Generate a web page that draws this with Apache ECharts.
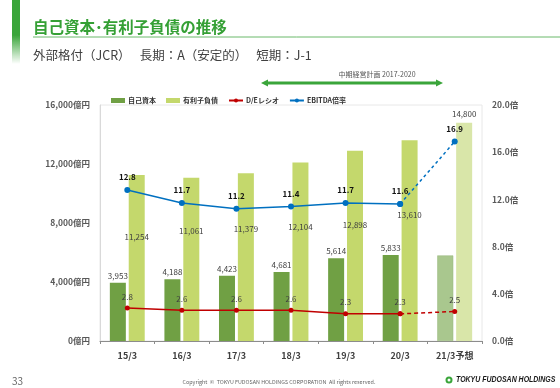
<!DOCTYPE html>
<html><head><meta charset="utf-8">
<script src="https://cdn.jsdelivr.net/npm/echarts@6/dist/echarts.min.js"></script>
<style>html,body{margin:0;padding:0;background:#fff}#c{width:560px;height:388px}</style>
</head><body><div id="c"></div>
<script>
const categories = ['15/3','16/3','17/3','18/3','19/3','20/3','21/3予想'];
const equity = [3953, 4188, 4423, 4681, 5614, 5833, 5800];
const debt = [11254, 11061, 11379, 12104, 12898, 13610, 14800];
const deRatio = [2.8, 2.6, 2.6, 2.6, 2.3, 2.3, 2.5];
const ebitda = [12.8, 11.7, 11.2, 11.4, 11.7, 11.6, 16.9];
const leftTicks = [0, 4000, 8000, 12000, 16000];
const rightTicks = [0, 4, 8, 12, 16, 20];
// label offsets (px below bar top) for debt labels
const debtLabelDy = [62, 53, 56, 64, 74, 75, null];

const FONT = '"Noto Sans CJK JP","Noto Sans",sans-serif';
const n = categories.length;
const last = n - 1;
const fmt = v => v.toLocaleString('en-US');

const equityData = equity.map((v, i) => ({
  value: v,
  itemStyle: i === last ? {color: '#a9c78e', borderColor: '#98b87c', borderWidth: 0.5} : {color: '#70a044'},
  label: {show: i !== last}
}));
const debtData = debt.map((v, i) => ({
  value: v,
  itemStyle: {color: i === last ? '#d9e6a9' : '#c4d86c'},
  label: i === last ? {show: true, position: 'top', distance: 5}
                    : {show: true, position: ['50%', debtLabelDy[i]], align: 'center', verticalAlign: 'middle'}
}));
const solid = arr => arr.map((v, i) => i < last ? v : null);
const dashed = arr => arr.map((v, i) => i >= last - 1 ? v : null);

const chart = echarts.init(document.getElementById('c'), null, {renderer: 'canvas'});
const lblStyle = {fontFamily: FONT, fontSize: 8, color: '#404040'};

chart.setOption({
  animation: false,
  textStyle: {fontFamily: FONT},
  grid: {left: 100, right: 78, top: 105, bottom: 47, show: true, borderColor: '#e8e8e8', borderWidth: 1, backgroundColor: 'transparent'},
  legend: {
    top: 92, left: 106, itemWidth: 14, itemHeight: 5, itemGap: 10,
    textStyle: {fontFamily: FONT, fontSize: 7, fontWeight: 'bold', color: '#333', padding: [0,0,0,-2]},
    data: [
      {name: '自己資本', icon: 'rect'},
      {name: '有利子負債', icon: 'rect'},
      {name: 'D/Eレシオ'},
      {name: 'EBITDA倍率'}
    ]
  },
  xAxis: {
    type: 'category', data: categories, boundaryGap: true,
    axisLine: {lineStyle: {color: '#8c8c8c', width: 1}},
    axisTick: {show: true, length: 3, lineStyle: {color: '#8c8c8c'}},
    axisLabel: {fontFamily: FONT, fontSize: 9, fontWeight: 'bold', color: '#404040', margin: 10}
  },
  yAxis: [
    {type: 'value', min: leftTicks[0], max: leftTicks[leftTicks.length-1], interval: leftTicks[1]-leftTicks[0],
     axisLine: {show: true, lineStyle: {color: '#d9d9d9'}}, axisTick: {show: false}, splitLine: {show: false},
     axisLabel: {fontFamily: FONT, fontSize: 8.5, fontWeight: 'bold', color: '#595959', margin: 10,
       formatter: v => fmt(v) + '億円'}},
    {type: 'value', min: rightTicks[0], max: rightTicks[rightTicks.length-1], interval: rightTicks[1]-rightTicks[0],
     axisLine: {show: false}, axisTick: {show: false}, splitLine: {show: false},
     axisLabel: {fontFamily: FONT, fontSize: 8.5, fontWeight: 'bold', color: '#595959', margin: 10,
       formatter: v => v.toFixed(1) + '倍'}}
  ],
  series: [
    {name: '自己資本', type: 'bar', data: equityData, barWidth: 16, barGap: '18%', itemStyle: {color: '#70a044'},
     label: Object.assign({position: 'top', distance: 3, formatter: p => fmt(p.value)}, lblStyle)},
    {name: '有利子負債', type: 'bar', data: debtData, barWidth: 16, itemStyle: {color: '#c4d86c'},
     label: Object.assign({formatter: p => fmt(p.value)}, lblStyle)},
    {name: 'D/Eレシオ', type: 'line', yAxisIndex: 1, data: solid(deRatio), symbol: 'circle', symbolSize: 5,
     itemStyle: {color: '#c00000'}, lineStyle: {color: '#c00000', width: 1.5}, z: 5,
     label: Object.assign({show: true, position: 'top', distance: 5, formatter: p => p.value.toFixed(1)}, lblStyle)},
    {name: 'D/Eレシオ', type: 'line', yAxisIndex: 1, data: dashed(deRatio), symbol: 'circle', symbolSize: 5,
     itemStyle: {color: '#c00000'}, lineStyle: {color: '#c00000', width: 1.5, type: [4, 3]}, z: 4,
     label: Object.assign({show: true, position: 'top', distance: 5,
       formatter: p => p.dataIndex === last ? p.value.toFixed(1) : ''}, lblStyle)},
    {name: 'EBITDA倍率', type: 'line', yAxisIndex: 1, data: solid(ebitda), symbol: 'circle', symbolSize: 6,
     itemStyle: {color: '#0070c0'}, lineStyle: {color: '#0070c0', width: 1.5}, z: 5,
     label: {show: true, position: 'top', distance: 6, fontFamily: FONT, fontSize: 8, fontWeight: 'bold', color: '#111',
       formatter: p => p.value.toFixed(1)}},
    {name: 'EBITDA倍率', type: 'line', yAxisIndex: 1, data: dashed(ebitda), symbol: 'circle', symbolSize: 6,
     itemStyle: {color: '#0070c0'}, lineStyle: {color: '#0070c0', width: 1.5, type: [3, 3]}, z: 4,
     label: {show: true, position: 'top', distance: 6, fontFamily: FONT, fontSize: 8, fontWeight: 'bold', color: '#111',
       formatter: p => p.dataIndex === last ? p.value.toFixed(1) : ''}}
  ],
  graphic: [
    {type: 'rect', shape: {x: 12, y: 0, width: 8, height: 64}, silent: true,
     style: {fill: new echarts.graphic.LinearGradient(0, 0, 0, 1, [
       {offset: 0, color: '#3aa53a'}, {offset: 0.55, color: '#3aa53a'}, {offset: 1, color: 'rgba(58,165,58,0)'}])}},
    {type: 'text', left: 33, top: 19, silent: true,
     style: {text: '自己資本･有利子負債の推移', font: 'bold 15.5px ' + FONT, fill: '#35a035'}},
    {type: 'line', shape: {x1: 33, y1: 37, x2: 560, y2: 37}, silent: true, style: {stroke: '#6ab96a', lineWidth: 1}},
    {type: 'text', left: 33, top: 49, silent: true,
     style: {text: '外部格付（JCR）　 長期：A（安定的）　 短期：J-1', font: '12.5px ' + FONT, fill: '#404040'}},
    {type: 'text', x: 377, y: 74, silent: true,
     style: {text: '中期経営計画 2017-2020', font: '7px ' + FONT, fill: '#555', align: 'center', verticalAlign: 'middle'}},
    {type: 'line', shape: {x1: 265, y1: 83, x2: 439, y2: 83}, silent: true, style: {stroke: '#3aa53a', lineWidth: 3}},
    {type: 'polygon', shape: {points: [[261, 83], [268, 79.5], [268, 86.5]]}, silent: true, style: {fill: '#3aa53a'}},
    {type: 'polygon', shape: {points: [[443, 83], [436, 79.5], [436, 86.5]]}, silent: true, style: {fill: '#3aa53a'}},
    {type: 'text', x: 12, y: 381, silent: true,
     style: {text: '33', font: '10px ' + FONT, fill: '#666', verticalAlign: 'middle'}},
    {type: 'text', x: 279, y: 382, silent: true,
     style: {text: 'Copyright  ©  TOKYU FUDOSAN HOLDINGS CORPORATION  All rights reserved.', font: '5.4px ' + FONT, fill: '#666', align: 'center', verticalAlign: 'middle'}},
    {type: 'circle', shape: {cx: 449, cy: 380, r: 3.5}, silent: true, style: {fill: '#3aa53a'}},
    {type: 'circle', shape: {cx: 449, cy: 380, r: 1.5}, silent: true, style: {fill: '#fff'}},
    {type: 'text', x: 456, y: 380, scaleX: 0.82, originX: 0, originY: 0, silent: true,
     style: {text: 'TOKYU FUDOSAN HOLDINGS', font: 'italic bold 8.5px "Liberation Sans",sans-serif', fill: '#1a1a1a', verticalAlign: 'middle'}}
  ]
});
</script></body></html>
